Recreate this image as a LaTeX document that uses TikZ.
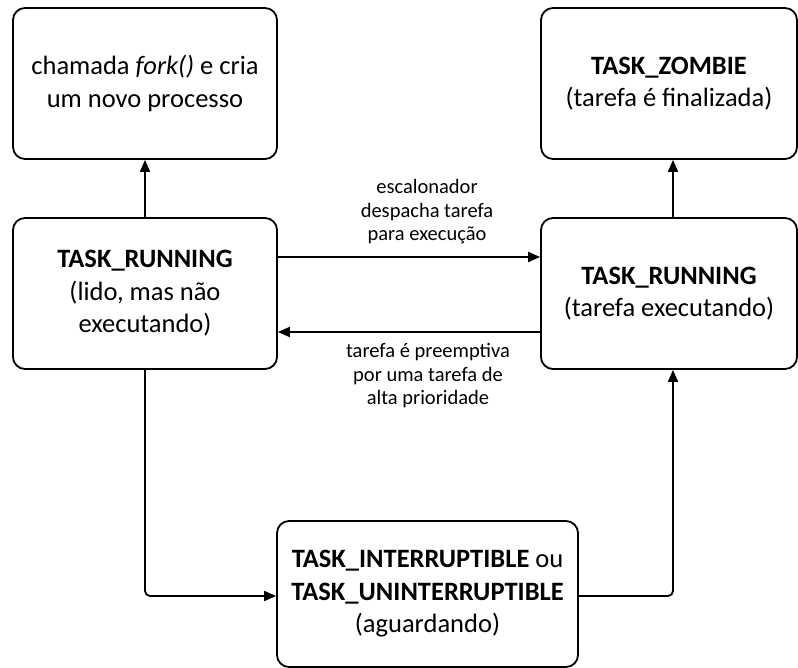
\documentclass[tikz,border=0pt]{standalone}
\usepackage{fontspec}
\setmainfont{Carlito}
\usepackage{tikz}
\usetikzlibrary{calc,arrows.meta}
\tikzset{>={Triangle[length=12pt,width=10pt]}}
\tikzset{state/.style={draw,line width=1.8pt,rounded corners=12pt,align=center,
  inner sep=0pt,font=\fontsize{26.5}{32.5}\selectfont},
  lbl/.style={align=center,font=\fontsize{20.5}{23.5}\selectfont}}

\begin{document}
\begin{tikzpicture}[x=1pt,y=-1pt]
      \useasboundingbox (0,0) rectangle (798,668);
       \node[state,minimum width=264pt,minimum height=151pt] at (145, 83.5)   (fork)
       {chamada \textit{fork()} e cria\\um novo processo};
       \node[state,minimum width=256pt,minimum height=151pt] at (669, 83.5)   (zombie)
       {\textbf{TASK\_ZOMBIE}\\(tarefa é finalizada)};
    \node[state,minimum width=264pt,minimum height=151pt] at (145, 293.5)   (ready)
    {\textbf{TASK\_RUNNING}\\(lido, mas não\\executando)};
    \node[state,minimum width=256pt,minimum height=151pt] at (669, 293.5)   (run)
    {\textbf{TASK\_RUNNING}\\(tarefa executando)};
    \node[state,minimum width=301pt,minimum height=146pt] at (427.5, 594)   (wait)
    {\textbf{TASK\_INTERRUPTIBLE} ou\\\textbf{TASK\_UNINTERRUPTIBLE}\\(aguardando)};
    \node[lbl] at (427, 212)   (go) {escalonador\\despacha tarefa\\para execução};
    \node[lbl] at (428, 376)   (back) {tarefa é preemptiva\\por uma tarefa de\\alta prioridade};
    \draw[line width=1.8pt,->](ready.north)--(fork.south);
    \draw[line width=1.8pt,->]([xshift=4pt]run.north)--([xshift=4pt]zombie.south);
    \draw[line width=1.8pt,->]([yshift=36.5pt]ready.east)--([yshift=36.5pt]run.west);
    \draw[line width=1.8pt,->]([yshift=-38.5pt]run.west)--([yshift=-38.5pt]ready.east);
    \draw[line width=1.8pt,->,rounded corners=5pt](ready.south)|-([yshift=-2pt]wait.west);
    \draw[line width=1.8pt,->,rounded corners=5pt]([yshift=-2pt]wait.east)-|([xshift=4pt]run.south);
    \end{tikzpicture}
\end{document}
